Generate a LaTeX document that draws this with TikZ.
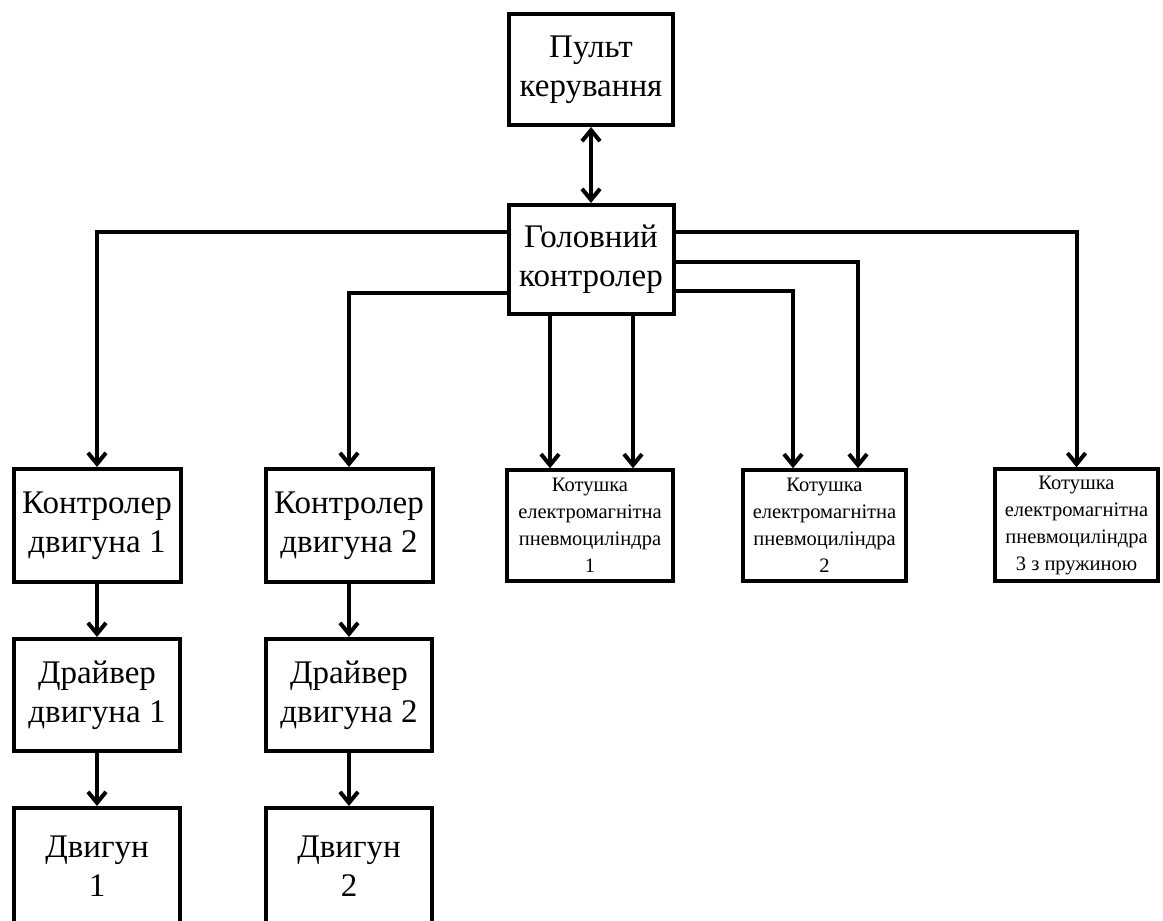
\documentclass[tikz,border=0pt]{standalone}
\usepackage{fontspec}
\setmainfont{Liberation Serif}
\usetikzlibrary{arrows.meta}
\begin{document}
\begin{tikzpicture}[x=1pt,y=-1pt,
  big/.style={draw,line width=4pt,align=center,inner sep=0pt,font=\fontsize{33}{39}\selectfont},
  small/.style={draw,line width=3.5pt,align=center,inner sep=0pt,font=\fontsize{20.5}{27}\selectfont},
  conn/.style={line width=4pt},
  arr/.style={conn,-{Straight Barb[length=11pt,width=18pt]}},
  darr/.style={conn,{Straight Barb[length=11pt,width=18pt]}-{Straight Barb[length=11pt,width=18pt]}}]
\useasboundingbox (0,0) rectangle (1163,921);
\node[big,minimum width=164pt,minimum height=111pt] (pult) at (591,69.5) {Пульт\\керування};
\node[big,minimum width=165pt,minimum height=109pt] (main) at (591,259.5) {Головний\\контролер};
\node[big,minimum width=167pt,minimum height=113pt] (kd1) at (97,525.5) {Контролер\\двигуна 1};
\node[big,minimum width=167pt,minimum height=113pt] (kd2) at (349,525.5) {Контролер\\двигуна 2};
\node[small,minimum width=166pt,minimum height=111pt] (k1) at (590,525.5) {Котушка\\електромагнітна\\пневмоциліндра\\1};
\node[small,minimum width=163pt,minimum height=111pt] (k2) at (824.5,525.5) {Котушка\\електромагнітна\\пневмоциліндра\\2};
\node[small,minimum width=163pt,minimum height=112pt] (k3) at (1076.5,525) {Котушка\\електромагнітна\\пневмоциліндра\\3 з пружиною};
\node[big,minimum width=166pt,minimum height=112pt] (dr1) at (97,695) {Драйвер\\двигуна 1};
\node[big,minimum width=166pt,minimum height=112pt] (dr2) at (349,695) {Драйвер\\двигуна 2};
\node[big,minimum width=166pt,minimum height=116pt] (dv1) at (97,866) {Двигун\\1};
\node[big,minimum width=166pt,minimum height=116pt] (dv2) at (349,866) {Двигун\\2};
\draw[darr] (pult.south) -- (main.north);
\draw[arr] (main.west |- 0,232) -| (kd1.north);
\draw[arr] (main.west |- 0,293) -| (kd2.north);
\draw[arr] (main.south -| 550,0) -- (k1.north -| 550,0);
\draw[arr] (main.south -| 633,0) -- (k1.north -| 633,0);
\draw[arr] (main.east |- 0,291) -| (k2.north -| 793,0);
\draw[arr] (main.east |- 0,262) -| (k2.north -| 858,0);
\draw[arr] (main.east |- 0,232) -| (k3.north);
\draw[arr] (kd1.south) -- (dr1.north);
\draw[arr] (dr1.south) -- (dv1.north);
\draw[arr] (kd2.south) -- (dr2.north);
\draw[arr] (dr2.south) -- (dv2.north);
\end{tikzpicture}
\end{document}
